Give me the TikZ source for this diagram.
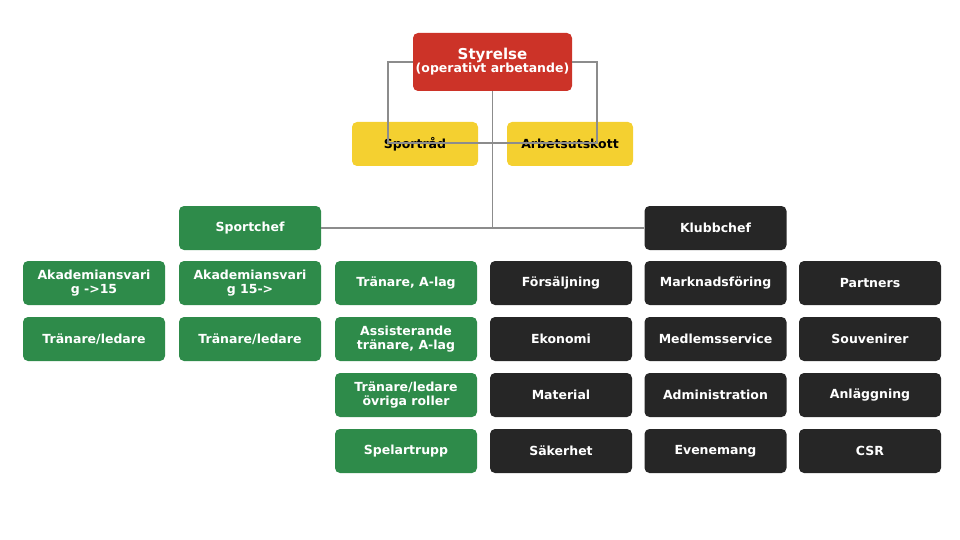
\documentclass[tikz,border=0pt]{standalone}
\usepackage{fontspec}
\setmainfont{DejaVu Sans}
\definecolor{cred}{RGB}{204,51,40}
\definecolor{cyel}{RGB}{244,208,48}
\definecolor{cgrn}{RGB}{46,139,74}
\definecolor{cdrk}{RGB}{38,38,38}
\definecolor{cline}{RGB}{140,140,140}
\begin{document}
\begin{tikzpicture}[x=1pt,y=-1pt,
  box/.style={rounded corners=5pt,minimum width=142pt,minimum height=44pt,inner sep=1pt,align=center,font=\fontsize{12.5}{14}\selectfont\bfseries,text=white},
  gbox/.style={box,fill=cgrn},
  dbox/.style={box,fill=cdrk},
  ybox/.style={box,fill=cyel,text=black,minimum width=126pt},
  conn/.style={draw=cline,line width=1.2pt}]
\useasboundingbox (0,0) rectangle (960,540);
\node[box,fill=cred,minimum width=159pt,minimum height=58pt] (sty) at (492.5,62) {{\fontsize{15}{17}\selectfont Styrelse}\\[-1pt](operativt arbetande)};
\node[ybox] (spr) at (415,144) {Sportråd};
\node[ybox] (arb) at (570,144) {Arbetsutskott};
\node[gbox] (spc) at (250,228) {Sportchef};
\node[dbox] (klc) at (715.5,228) {Klubbchef};
\draw[conn] (sty.west |- 0,62) -| (388,143) -- (597,143) |- (sty.east |- 0,62);
\draw[conn] (sty.south) -- (sty.south |- spc.east);
\draw[conn] (spc.east) -- (klc.west);
% columns
\def\ra{283}\def\rb{339}\def\rc{395}\def\rd{451}
\node[gbox] (a1) at (94,\ra) {Akademiansvari\\g ->15};
\node[gbox] (a2) at (94,\rb) {Tränare/ledare};
\node[gbox] (b1) at (250,\ra) {Akademiansvari\\g 15->};
\node[gbox] (b2) at (250,\rb) {Tränare/ledare};
\node[gbox] (c1) at (406,\ra) {Tränare, A-lag};
\node[gbox] (c2) at (406,\rb) {Assisterande\\tränare, A-lag};
\node[gbox] (c3) at (406,\rc) {Tränare/ledare\\övriga roller};
\node[gbox] (c4) at (406,\rd) {Spelartrupp};
\node[dbox] (d1) at (561,\ra) {Försäljning};
\node[dbox] (d2) at (561,\rb) {Ekonomi};
\node[dbox] (d3) at (561,\rc) {Material};
\node[dbox] (d4) at (561,\rd) {Säkerhet};
\node[dbox] (e1) at (715.5,\ra) {Marknadsföring};
\node[dbox] (e2) at (715.5,\rb) {Medlemsservice};
\node[dbox] (e3) at (715.5,\rc) {Administration};
\node[dbox] (e4) at (715.5,\rd) {Evenemang};
\node[dbox] (f1) at (870,\ra) {Partners};
\node[dbox] (f2) at (870,\rb) {Souvenirer};
\node[dbox] (f3) at (870,\rc) {Anläggning};
\node[dbox] (f4) at (870,\rd) {CSR};
\end{tikzpicture}
\end{document}
